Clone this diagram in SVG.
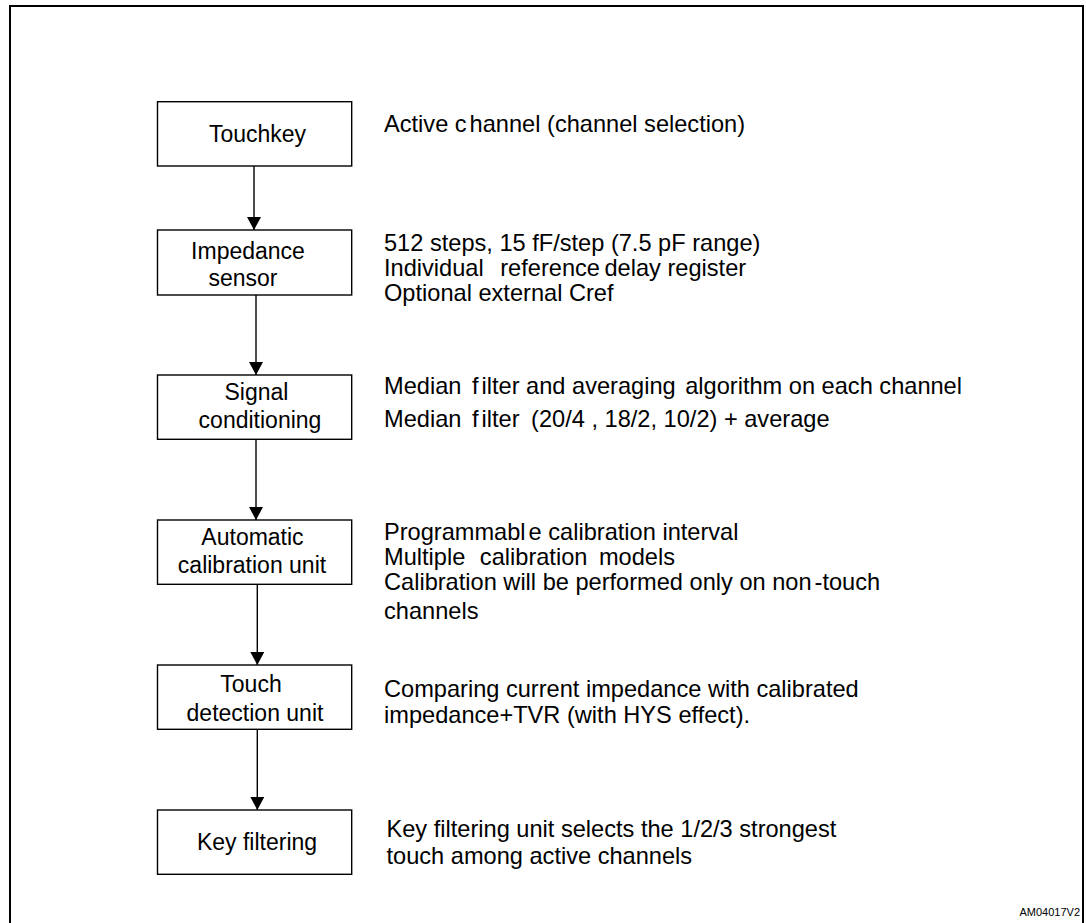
<svg xmlns="http://www.w3.org/2000/svg" width="1086" height="923" viewBox="0 0 1086 923">
<defs>
<style>
text{font-family:"Liberation Sans",Arial,sans-serif;font-size:23px;fill:#000}
.lbl{text-anchor:middle}
.desc{font-size:23.6px}
.box{fill:#fff;stroke:#000;stroke-width:1.4}
.con{stroke:#000;stroke-width:1.4;fill:none}
.id{font-size:11px;text-anchor:end}
</style>
<marker id="ah" viewBox="0 0 13 14" refX="13" refY="7" markerWidth="13" markerHeight="14" markerUnits="userSpaceOnUse" orient="auto">
<path d="M0,0 L13,7 L0,14 Z" fill="#000"/>
</marker>
</defs>
<rect width="1086" height="923" fill="#fff"/>
<path d="M10,930 V6 H1083 V930" fill="none" stroke="#000" stroke-width="2"/>

<g id="n-touchkey">
<rect class="box" x="157.5" y="101.7" width="194.2" height="64.3"/>
<text class="lbl" x="257.5" y="141.5">Touchkey</text>
<text class="desc" x="384" y="132">Active <tspan>c</tspan><tspan dx="3">hannel</tspan> (channel selection)</text>
</g>

<g id="n-impedance">
<rect class="box" x="157.5" y="230" width="194.2" height="65"/>
<text class="lbl" x="248" y="259">Impedance</text>
<text class="lbl" x="243" y="286">sensor</text>
<text class="desc" x="384" y="251">512 steps, 15 fF/step (7.5 pF range)</text>
<text class="desc" x="384" y="276">Individual <tspan dx="10">reference</tspan><tspan dx="-2"> delay register</tspan></text>
<text class="desc" x="384" y="301">Optional external Cref</text>
</g>

<g id="n-signal">
<rect class="box" x="157.5" y="375" width="194.2" height="64.3"/>
<text class="lbl" x="256.5" y="400">Signal</text>
<text class="lbl" x="260" y="428">conditioning</text>
<text class="desc" x="384" y="394">Median <tspan dx="4">f</tspan><tspan dx="3">ilter</tspan> and averaging <tspan dx="3">algorithm</tspan> on each channel</text>
<text class="desc" x="384" y="427">Median <tspan dx="4">f</tspan><tspan dx="3">ilter</tspan> <tspan dx="5">(20/4</tspan> , 18/2, 10/2) + average</text>
</g>

<g id="n-autocal">
<rect class="box" x="157.5" y="520" width="194.2" height="64.3"/>
<text class="lbl" x="252.5" y="545">Automatic</text>
<text class="lbl" x="252" y="573">calibration unit</text>
<text class="desc" x="384" y="540">Programmabl<tspan dx="3">e</tspan> calibration interval</text>
<text class="desc" x="384" y="565">Multiple <tspan dx="8">calibration</tspan> <tspan dx="5">models</tspan></text>
<text class="desc" x="384" y="590">Calibration will be performed only on non<tspan dx="3">-touch</tspan></text>
<text class="desc" x="384" y="619">channels</text>
</g>

<g id="n-touchdet">
<rect class="box" x="157.5" y="665" width="194.2" height="64.3"/>
<text class="lbl" x="251" y="692">Touch</text>
<text class="lbl" x="255" y="721">detection unit</text>
<text class="desc" x="384" y="697">Comparing current impedance with calibrated</text>
<text class="desc" x="384" y="723">impedance+TVR (with HYS effect).</text>
</g>

<g id="n-keyfilt">
<rect class="box" x="157.5" y="810" width="194.2" height="64.3"/>
<text class="lbl" x="257" y="850">Key filtering</text>
<text class="desc" x="386.5" y="837">Key filtering unit selects the 1/2/3 strongest</text>
<text class="desc" x="386.5" y="864">touch among active channels</text>
</g>

<g id="connectors">
<line class="con" x1="254" y1="166" x2="254" y2="230" marker-end="url(#ah)"/>
<line class="con" x1="256" y1="295" x2="256" y2="375" marker-end="url(#ah)"/>
<line class="con" x1="256" y1="439.3" x2="256" y2="520" marker-end="url(#ah)"/>
<line class="con" x1="257.3" y1="584.3" x2="257.3" y2="665" marker-end="url(#ah)"/>
<line class="con" x1="257.3" y1="729.3" x2="257.3" y2="810" marker-end="url(#ah)"/>
</g>

<text class="id" x="1080" y="916">AM04017V2</text>
</svg>
